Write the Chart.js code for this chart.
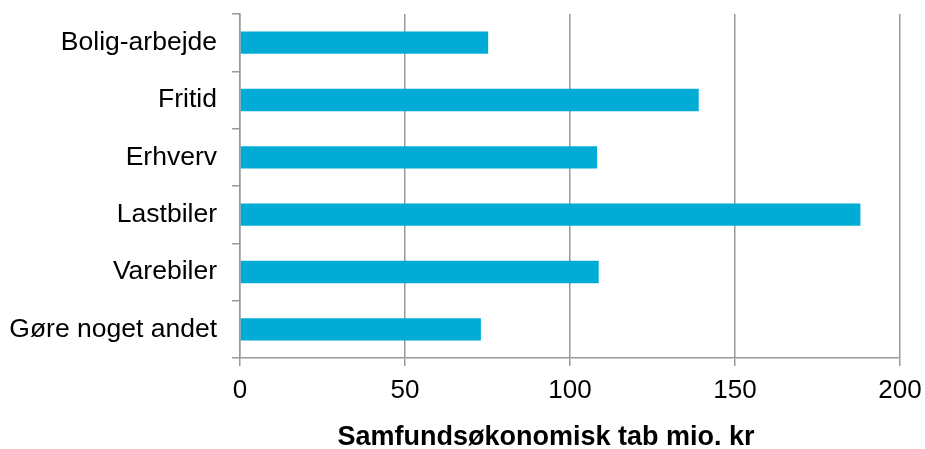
<!DOCTYPE html>
<html>
<head>
<meta charset="utf-8">
<script src="https://cdn.jsdelivr.net/npm/chart.js@4/dist/chart.umd.min.js"></script>
<style>
  html, body { margin: 0; padding: 0; background: #fff; }
  #wrap { width: 925px; height: 449px; }
</style>
</head>
<body>
<div id="wrap"><canvas id="myChart" width="925" height="449"></canvas></div>
<script>
const categories = ["Bolig-arbejde", "Fritid", "Erhverv", "Lastbiler", "Varebiler", "Gøre noget andet"];
const values = [75.2, 139, 108.2, 188, 108.7, 73];
const xTicks = [0, 50, 100, 150, 200];
const xTitle = "Samfundsøkonomisk tab mio. kr";

const fontFamily = "'Liberation Sans', Arial, sans-serif";
const gray = "#999999";

// axis title sits a little left of the plot centre in the original
const axisTitle = {
  id: "axisTitle",
  afterDraw(chart) {
    const c = chart.ctx;
    const xs = chart.scales.x;
    c.save();
    c.font = "bold 27px " + fontFamily;
    c.fillStyle = "#000";
    c.textAlign = "center";
    c.textBaseline = "middle";
    c.fillText(xTitle, (xs.left + xs.right) / 2 - 24, 438);
    c.restore();
  },
};

var ctx = document.getElementById("myChart");
var myChart = new Chart(ctx, {
  type: "bar",
  data: {
    labels: categories,
    datasets: [
      {
        label: xTitle,
        data: values,
        backgroundColor: "#00acd6",
        borderWidth: 0,
        categoryPercentage: 1,
        barPercentage: 0.39,
      },
    ],
  },
  options: {
    indexAxis: "y",
    responsive: false,
    animation: false,
    layout: { padding: { left: 0, right: 25, top: 14, bottom: 0 } },
    plugins: {
      legend: { display: false },
      tooltip: { enabled: false },
    },
    scales: {
      x: {
        min: 0,
        max: 200,
        afterBuildTicks: (scale) => {
          scale.ticks = xTicks.map((v) => ({ value: v }));
        },
        afterFit: (scale) => {
          scale.height = 91;
          scale.paddingLeft = 0;
          scale.paddingRight = 0;
        },
        grid: {
          color: gray,
          lineWidth: 1.5,
          tickLength: 8,
          drawTicks: true,
        },
        border: { color: gray, width: 1.5 },
        ticks: {
          color: "#000",
          padding: 9,
          font: { family: fontFamily, size: 26 },
          maxRotation: 0,
        },
        title: { display: false },
      },
      y: {
        afterFit: (scale) => {
          scale.width = 240;
          scale.paddingTop = 0;
          scale.paddingBottom = 0;
        },
        grid: {
          color: gray,
          lineWidth: 1.5,
          drawOnChartArea: false,
          drawTicks: true,
          tickLength: 8,
          offset: true,
        },
        border: { color: gray, width: 1.5 },
        ticks: {
          color: "#000",
          padding: 15,
          font: { family: fontFamily, size: 26.5 },
        },
      },
    },
  },
  plugins: [axisTitle],
});
</script>
</body>
</html>
